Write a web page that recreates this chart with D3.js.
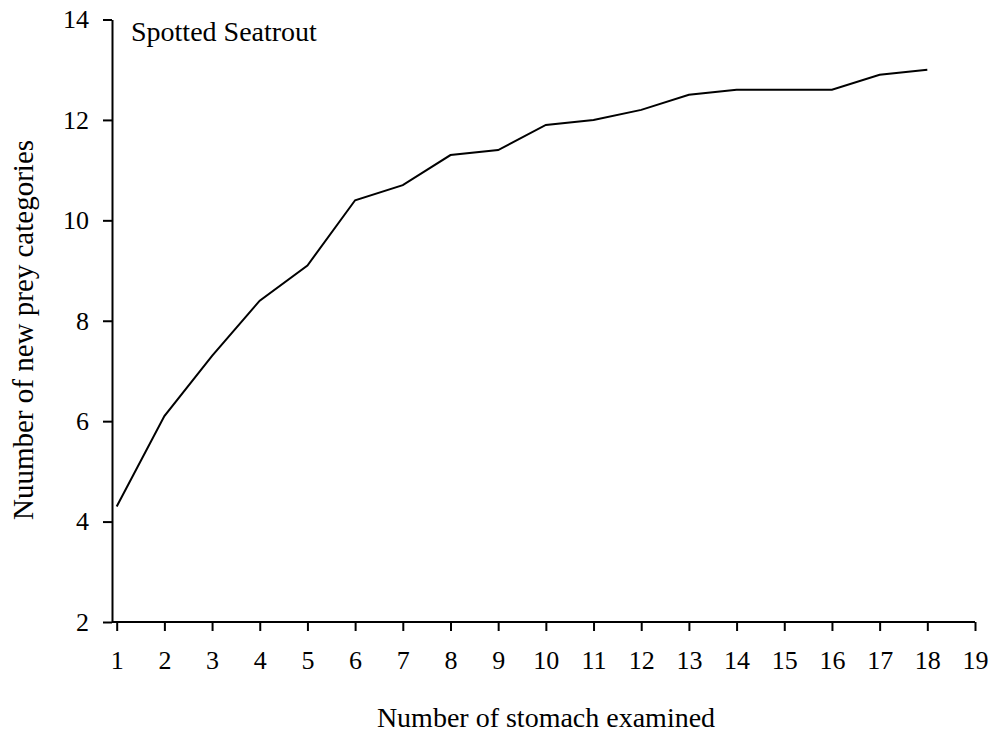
<!DOCTYPE html>
<html>
<head>
<meta charset="utf-8">
<script src="https://cdnjs.cloudflare.com/ajax/libs/d3/7.8.5/d3.min.js"></script>
<style>
  body { margin: 0; background: #fff; }
  text { font-family: "Liberation Serif", "Times New Roman", serif; fill: #000; }
</style>
</head>
<body>
<div id="graph"></div>
<script>
// Data
const stomachs = [1, 2, 3, 4, 5, 6, 7, 8, 9, 10, 11, 12, 13, 14, 15, 16, 17, 18];
const preyCounts = [4.3, 6.1, 7.3, 8.4, 9.1, 10.4, 10.7, 11.3, 11.4, 11.9, 12.0, 12.2, 12.5, 12.6, 12.6, 12.6, 12.9, 13.0];
const xTicks = [1, 2, 3, 4, 5, 6, 7, 8, 9, 10, 11, 12, 13, 14, 15, 16, 17, 18, 19];
const yTicks = [2, 4, 6, 8, 10, 12, 14];

let chart = {
  width: 992,
  height: 732,
  axisX: 112,
  svg: null
};

chart.svg = d3.select("#graph").append("svg")
  .attr("width", chart.width)
  .attr("height", chart.height);

let xScale = d3.scaleLinear().domain([1, 19]).range([116.7, 975]);
let yScale = d3.scaleLinear().domain([2, 14]).range([622, 19.5]);

// X axis
let xAxis = d3.axisBottom(xScale).tickValues(xTicks).tickSize(9).tickSizeOuter(0).tickPadding(20);
let gx = chart.svg.append("g")
  .attr("transform", `translate(0, ${yScale(2)})`)
  .call(xAxis);
gx.select(".domain").remove();
gx.append("line")
  .attr("x1", chart.axisX).attr("x2", xScale(19))
  .attr("stroke", "#000").attr("stroke-width", 2);
gx.selectAll(".tick line").attr("stroke-width", 2);
gx.selectAll(".tick text")
  .style("font-size", "26px")
  .attr("font-family", null);

// Y axis
let yAxis = d3.axisLeft(yScale).tickValues(yTicks).tickSize(9).tickSizeOuter(0).tickPadding(14);
let gy = chart.svg.append("g")
  .attr("transform", `translate(${chart.axisX}, 0)`)
  .call(yAxis);
gy.select(".domain").attr("stroke-width", 2);
gy.selectAll(".tick line").attr("stroke-width", 2);
gy.selectAll(".tick text")
  .style("font-size", "26px")
  .attr("font-family", null);

// Line
let line = d3.line()
  .x((d, i) => xScale(stomachs[i]))
  .y((d) => yScale(d));

chart.svg.append("path")
  .datum(preyCounts)
  .attr("d", line)
  .attr("fill", "none")
  .attr("stroke", "#000")
  .attr("stroke-width", 2);

// Labels
chart.svg.append("text")
  .attr("x", 131)
  .attr("y", 41)
  .style("font-size", "28px")
  .text("Spotted Seatrout");

chart.svg.append("text")
  .attr("x", 546)
  .attr("y", 727)
  .attr("text-anchor", "middle")
  .style("font-size", "28px")
  .text("Number of stomach examined");

chart.svg.append("text")
  .attr("transform", "translate(33, 330) rotate(-90)")
  .attr("text-anchor", "middle")
  .style("font-size", "29px")
  .text("Nuumber of new prey categories");
</script>
</body>
</html>
